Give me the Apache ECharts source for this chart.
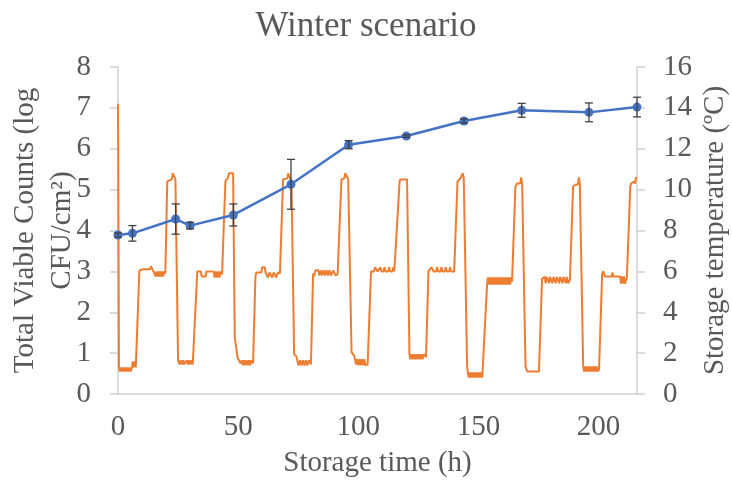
<!DOCTYPE html>
<html>
<head>
<meta charset="utf-8">
<title>Winter scenario</title>
<script src="https://cdn.jsdelivr.net/npm/echarts@6/dist/echarts.min.js"></script>
<style>
  html, body { margin: 0; padding: 0; background: #ffffff; }
  #chart { width: 732px; height: 484px; }
</style>
</head>
<body>
<div id="chart"></div>
<script>
// Total viable counts (log CFU/cm²) sampled during storage
const tvcHours = [0, 6, 24, 30, 48, 72, 96, 120, 144, 168, 196, 216];
const tvcLog   = [3.89, 3.93, 4.28, 4.12, 4.38, 5.13, 6.10, 6.31, 6.68, 6.94, 6.89, 7.02];
const tvcSd    = [0.05, 0.19, 0.37, 0.08, 0.27, 0.61, 0.10, 0.03, 0.05, 0.17, 0.23, 0.24];

// Logged storage temperature (°C) against storage time (h)
const tempLog = [
  [0, 14.2], [0.4, 1.3], [0.8, 1.1], [1.3, 1.3], [1.7, 1.1], [2.2, 1.3], [2.6, 1.1], [3.1, 1.3],
  [3.5, 1.1], [4.0, 1.3], [4.4, 1.1], [4.9, 1.3], [5.3, 1.1], [5.8, 1.3], [6.2, 1.6], [6.6, 1.3],
  [7.0, 1.6], [7.4, 1.3], [7.8, 1.3],
  [8.9, 6.05], [10.5, 6.1], [13.4, 6.1], [13.7, 6.25], [14.3, 6.25], [14.6, 6.05], [15.3, 6.05],
  [15.6, 5.75], [16.0, 6.0], [16.4, 5.75], [16.8, 6.0], [17.2, 5.75], [17.6, 6.0], [18.0, 5.75],
  [18.4, 6.0], [18.8, 5.75], [19.2, 6.0], [19.7, 5.9],
  [20.5, 10.4], [22.4, 10.5], [22.8, 10.8], [23.6, 10.8], [23.9, 10.5],
  [25.0, 1.65], [25.6, 1.45], [26.1, 1.65], [26.6, 1.45], [27.1, 1.65], [27.6, 1.45], [28.1, 1.45],
  [28.6, 1.65], [29.1, 1.45], [29.6, 1.65], [30.1, 1.45], [30.6, 1.65], [31.1, 1.45], [31.9, 1.5],
  [33.0, 6.0], [34.5, 6.0], [34.8, 5.75], [36.5, 5.75], [36.8, 6.0], [39.8, 6.0], [40.2, 5.7],
  [40.7, 6.0], [41.2, 5.7], [41.7, 6.0], [42.2, 5.7], [42.7, 6.0], [43.3, 5.85],
  [44.7, 10.4], [45.8, 10.6], [46.2, 10.8], [47.9, 10.8],
  [48.6, 2.8], [49.7, 1.8], [50.5, 1.8], [51.0, 1.5], [51.5, 1.65], [52.0, 1.4], [52.5, 1.65],
  [53.0, 1.4], [53.5, 1.65], [54.0, 1.4], [54.5, 1.65], [55.0, 1.4], [55.5, 1.65], [56.2, 1.5],
  [57.2, 5.75], [57.6, 5.95], [59.7, 5.95], [60.0, 6.2], [61.1, 6.2], [61.4, 5.95], [62.0, 5.95],
  [62.4, 5.7], [63.0, 5.95], [63.8, 5.95], [64.2, 5.7], [64.8, 5.95], [65.5, 5.95], [65.9, 5.7],
  [66.5, 5.95], [67.4, 5.9],
  [68.7, 10.5], [70.5, 10.55], [70.8, 10.8], [71.5, 10.8], [72.2, 10.4],
  [73.3, 1.95], [74.2, 1.85], [74.6, 1.65], [75.2, 1.4], [75.8, 1.65], [76.4, 1.4], [77.0, 1.65],
  [77.6, 1.4], [78.2, 1.65], [78.8, 1.4], [79.4, 1.65], [80.3, 1.45],
  [81.2, 5.9], [81.6, 5.75], [82.2, 6.05], [83.4, 6.05], [83.8, 5.8], [84.4, 6.05], [85.0, 5.8],
  [85.6, 6.05], [86.2, 5.8], [86.8, 6.05], [87.4, 5.8], [88.0, 6.05], [88.6, 5.8], [89.2, 5.8],
  [89.6, 6.05], [90.5, 5.8], [91.4, 5.85],
  [93.0, 10.5], [94.2, 10.55], [94.6, 10.8], [95.4, 10.8], [95.8, 10.5],
  [97.2, 2.05], [98.4, 1.85], [99.0, 1.45], [99.5, 1.7], [100.0, 1.4], [100.5, 1.7], [101.0, 1.4],
  [101.5, 1.7], [102.0, 1.4], [102.5, 1.7], [103.0, 1.4], [103.9, 1.45],
  [105.3, 6.0], [106.5, 6.0], [107.0, 6.2], [107.6, 6.2], [108.0, 6.0], [108.8, 6.0], [109.2, 6.2],
  [109.6, 6.0], [110.5, 6.0], [110.9, 6.2], [111.3, 6.0], [112.4, 6.0], [112.8, 6.2], [113.2, 6.0],
  [114.2, 6.0], [114.6, 6.2], [115.0, 6.0], [115.7, 6.0],
  [117.2, 10.4], [117.5, 10.5], [120.3, 10.5],
  [121.3, 1.95], [121.7, 1.7], [122.2, 1.95], [122.7, 1.7], [123.2, 1.95], [123.7, 1.7], [124.2, 1.95],
  [124.7, 1.7], [125.2, 1.95], [125.7, 1.7], [126.2, 1.95], [126.7, 1.7], [127.2, 1.95], [128.2, 1.8],
  [129.2, 6.0], [130.0, 6.0], [130.4, 6.2], [131.0, 6.2], [131.4, 6.0], [132.4, 6.0], [132.8, 6.2],
  [133.2, 6.0], [134.2, 6.0], [134.6, 6.2], [135.0, 6.0], [136.0, 6.0], [136.4, 6.2], [136.8, 6.0],
  [137.8, 6.0], [138.2, 6.2], [138.6, 6.0], [139.9, 6.0],
  [141.3, 10.4], [142.5, 10.55], [143.5, 10.8], [143.9, 10.55],
  [145.3, 1.35], [145.6, 1.05], [146.0, 0.8], [146.4, 1.05], [146.8, 0.8], [147.2, 1.05], [147.6, 0.8],
  [148.0, 1.05], [148.4, 0.8], [148.8, 1.05], [149.2, 0.8], [149.6, 1.05], [150.0, 0.8], [150.4, 1.05],
  [150.8, 0.8], [151.2, 1.05], [151.6, 0.8], [152.2, 0.85],
  [153.6, 5.35], [154.0, 5.7], [154.4, 5.35], [154.8, 5.7], [155.2, 5.35], [155.6, 5.7], [156.0, 5.35],
  [156.4, 5.7], [156.8, 5.35], [157.2, 5.7], [157.6, 5.35], [158.0, 5.7], [158.4, 5.35], [158.8, 5.7],
  [159.2, 5.35], [159.6, 5.7], [160.0, 5.35], [160.4, 5.7], [160.8, 5.35], [161.2, 5.7], [161.6, 5.35],
  [162.0, 5.7], [162.4, 5.35], [162.8, 5.7], [163.2, 5.35], [163.6, 5.7], [164.0, 5.5],
  [165.4, 10.15], [166.0, 10.3], [167.4, 10.3], [167.8, 10.6], [168.2, 10.3],
  [169.6, 1.35], [170.3, 1.1], [175.2, 1.1],
  [176.5, 5.65], [177.0, 5.73], [177.6, 5.73], [178.0, 5.42], [178.4, 5.73], [179.0, 5.73], [179.4, 5.42],
  [179.8, 5.73], [180.4, 5.73], [180.8, 5.42], [181.2, 5.73], [181.8, 5.73], [182.2, 5.42], [182.6, 5.73],
  [183.2, 5.73], [183.6, 5.42], [184.0, 5.73], [184.6, 5.73], [185.0, 5.42], [185.4, 5.73], [186.0, 5.73],
  [186.4, 5.42], [186.8, 5.73], [187.4, 5.42], [188.1, 5.6],
  [189.4, 10.15], [190.5, 10.25], [191.4, 10.25], [191.8, 10.6], [192.2, 10.3],
  [193.6, 1.35], [194.0, 1.1], [194.4, 1.35], [194.8, 1.1], [195.2, 1.35], [195.6, 1.1], [196.0, 1.35],
  [196.4, 1.1], [196.8, 1.35], [197.2, 1.1], [197.6, 1.35], [198.0, 1.1], [198.4, 1.35], [198.8, 1.1],
  [199.2, 1.35], [199.6, 1.1], [200.2, 1.2],
  [201.5, 5.9], [202.0, 6.0], [202.6, 5.75], [205.5, 5.75], [205.8, 5.95], [206.1, 5.75], [209.0, 5.75],
  [209.3, 5.4], [209.7, 5.75], [210.2, 5.4], [210.6, 5.75], [211.0, 5.4], [211.8, 5.7],
  [213.2, 10.15], [213.6, 10.3], [214.8, 10.4], [215.2, 10.3], [215.6, 10.6], [216.0, 10.55]
];

const FONT = "'Liberation Serif', 'Times New Roman', serif";
const TEXT = '#595959';
const AXIS = '#d0d0d0';

const chart = echarts.init(document.getElementById('chart'), null, { renderer: 'canvas' });

// Mean ± SD whiskers for the viable counts
function renderWhisker(params, api) {
  const h = api.value(0);
  const lo = api.coord([h, api.value(1)]);
  const hi = api.coord([h, api.value(2)]);
  const cap = 4;
  const style = { stroke: '#404040', lineWidth: 1.3 };
  return {
    type: 'group',
    children: [
      { type: 'line', shape: { x1: lo[0], y1: lo[1], x2: hi[0], y2: hi[1] }, style },
      { type: 'line', shape: { x1: lo[0] - cap, y1: lo[1], x2: lo[0] + cap, y2: lo[1] }, style },
      { type: 'line', shape: { x1: hi[0] - cap, y1: hi[1], x2: hi[0] + cap, y2: hi[1] }, style }
    ]
  };
}

chart.setOption({
  backgroundColor: '#ffffff',
  animation: false,
  title: {
    text: 'Winter scenario',
    left: 'center',
    top: 4,
    textStyle: { fontFamily: FONT, fontSize: 35, fontWeight: 'normal', color: TEXT }
  },
  grid: {
    left: 118, right: 95, top: 67, bottom: 90,
    containLabel: false,
    outerBoundsMode: 'none'
  },
  xAxis: {
    type: 'value',
    min: 0, max: 216, interval: 50,
    name: 'Storage time (h)',
    nameLocation: 'middle',
    nameGap: 51,
    nameMoveOverlap: false,
    nameTextStyle: { fontFamily: FONT, fontSize: 29, color: TEXT, lineHeight: 36 },
    axisLine: { show: true, onZero: false, lineStyle: { color: AXIS, width: 1.5 } },
    axisTick: { show: false },
    splitLine: { show: false },
    axisLabel: { fontFamily: FONT, fontSize: 29, color: TEXT, margin: 16, lineHeight: 34, showMaxLabel: false }
  },
  yAxis: [
    {
      type: 'value',
      position: 'left',
      min: 0, max: 8, interval: 1,
      name: 'Total Viable Counts (log\nCFU/cm²)',
      nameLocation: 'middle',
      nameGap: 37,
      nameMoveOverlap: false,
      nameTextStyle: { fontFamily: FONT, fontSize: 29, color: TEXT, lineHeight: 37, align: 'center' },
      axisLine: { show: true, lineStyle: { color: AXIS, width: 1.5 } },
      axisTick: { show: true, length: 8, lineStyle: { color: AXIS, width: 1.5 } },
      splitLine: { show: false },
      axisLabel: { fontFamily: FONT, fontSize: 29, color: TEXT, margin: 27 }
    },
    {
      type: 'value',
      position: 'right',
      min: 0, max: 16, interval: 2,
      name: 'Storage temperature (ºC)',
      nameLocation: 'middle',
      nameGap: 60,
      nameMoveOverlap: false,
      nameTextStyle: { fontFamily: FONT, fontSize: 29, color: TEXT, lineHeight: 36 },
      axisLine: { show: true, lineStyle: { color: AXIS, width: 1.5 } },
      axisTick: { show: true, length: 8, lineStyle: { color: AXIS, width: 1.5 } },
      splitLine: { show: false },
      axisLabel: { fontFamily: FONT, fontSize: 29, color: TEXT, margin: 26 }
    }
  ],
  series: [
    {
      name: 'Storage temperature',
      type: 'line',
      yAxisIndex: 1,
      data: tempLog,
      showSymbol: false,
      symbol: 'none',
      clip: false,
      lineStyle: { color: '#ED7D31', width: 2 },
      itemStyle: { color: '#ED7D31' },
      z: 2
    },
    {
      name: 'Total viable counts',
      type: 'line',
      yAxisIndex: 0,
      data: tvcHours.map((h, i) => [h, tvcLog[i]]),
      symbol: 'circle',
      symbolSize: 9,
      clip: false,
      lineStyle: { color: '#4472C4', width: 2.5 },
      itemStyle: { color: '#4472C4' },
      z: 3
    },
    {
      name: 'SD',
      type: 'custom',
      yAxisIndex: 0,
      renderItem: renderWhisker,
      data: tvcHours.map((h, i) => [h, tvcLog[i] - tvcSd[i], tvcLog[i] + tvcSd[i]]),
      encode: { x: 0, y: [1, 2] },
      clip: false,
      z: 4
    }
  ]
});
</script>
</body>
</html>
